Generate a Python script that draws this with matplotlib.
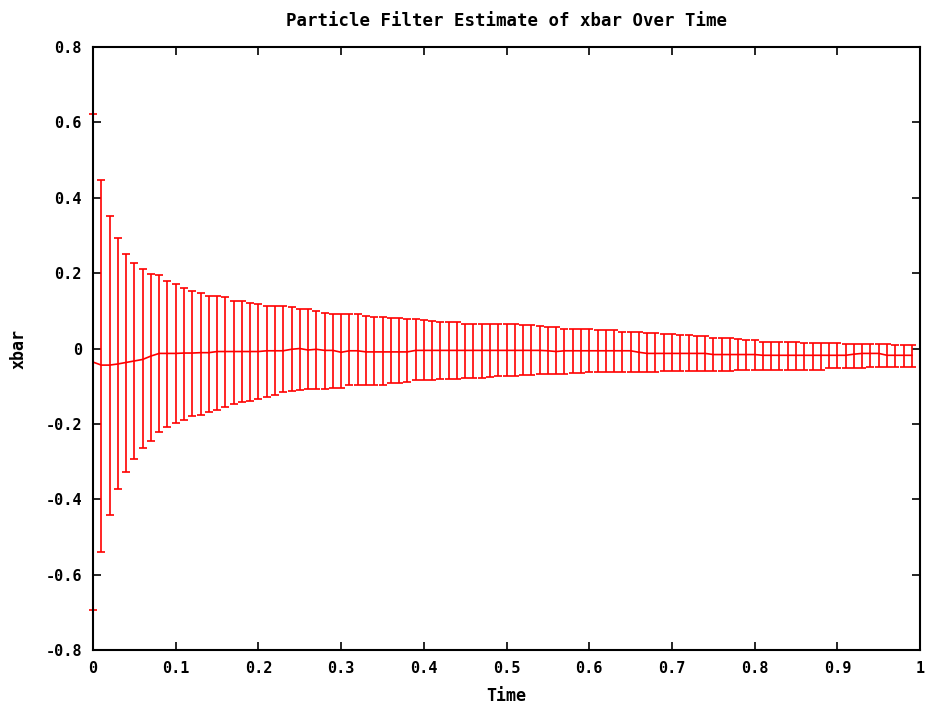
import numpy as np
import matplotlib.pyplot as plt

# time steps 0.00 .. 0.99
time = [i / 100 for i in range(100)]

xbar = [-0.036, -0.044, -0.044, -0.041, -0.037, -0.033, -0.029, -0.020, -0.013, -0.013,
        -0.013, -0.012, -0.012, -0.011, -0.011, -0.008, -0.008, -0.008, -0.008, -0.008,
        -0.008, -0.006, -0.006, -0.006, -0.002, 0.000, -0.004, -0.002, -0.005, -0.005,
        -0.010, -0.006, -0.006, -0.009, -0.009, -0.009, -0.009, -0.009, -0.009, -0.005,
        -0.005, -0.005, -0.005, -0.005, -0.005, -0.005, -0.005, -0.005, -0.005, -0.005,
        -0.005, -0.005, -0.005, -0.005, -0.005, -0.006, -0.008, -0.006, -0.006, -0.006,
        -0.006, -0.006, -0.006, -0.006, -0.006, -0.006, -0.010, -0.013, -0.013, -0.013,
        -0.013, -0.013, -0.013, -0.013, -0.013, -0.016, -0.016, -0.016, -0.016, -0.016,
        -0.016, -0.018, -0.018, -0.018, -0.018, -0.018, -0.018, -0.018, -0.018, -0.018,
        -0.018, -0.018, -0.015, -0.013, -0.013, -0.013, -0.018, -0.018, -0.018, -0.018]

upper = [0.623, 0.447, 0.351, 0.292, 0.251, 0.227, 0.211, 0.199, 0.195, 0.179,
         0.171, 0.160, 0.153, 0.146, 0.140, 0.139, 0.136, 0.127, 0.127, 0.122,
         0.118, 0.113, 0.112, 0.112, 0.111, 0.104, 0.104, 0.100, 0.095, 0.091,
         0.091, 0.091, 0.091, 0.085, 0.084, 0.084, 0.080, 0.080, 0.077, 0.077,
         0.075, 0.073, 0.071, 0.071, 0.070, 0.066, 0.066, 0.066, 0.065, 0.065,
         0.064, 0.064, 0.062, 0.062, 0.059, 0.057, 0.057, 0.053, 0.053, 0.053,
         0.053, 0.049, 0.049, 0.049, 0.044, 0.044, 0.044, 0.040, 0.040, 0.038,
         0.038, 0.035, 0.035, 0.033, 0.033, 0.029, 0.029, 0.029, 0.024, 0.022,
         0.022, 0.018, 0.018, 0.018, 0.018, 0.018, 0.015, 0.015, 0.015, 0.015,
         0.015, 0.011, 0.011, 0.011, 0.011, 0.011, 0.011, 0.009, 0.009, 0.009]

lower = [-0.693, -0.541, -0.441, -0.372, -0.328, -0.294, -0.264, -0.245, -0.221, -0.208,
         -0.197, -0.190, -0.180, -0.176, -0.169, -0.162, -0.155, -0.147, -0.142, -0.138,
         -0.133, -0.129, -0.124, -0.116, -0.113, -0.111, -0.108, -0.108, -0.107, -0.105,
         -0.104, -0.098, -0.098, -0.097, -0.098, -0.096, -0.091, -0.091, -0.089, -0.084,
         -0.084, -0.084, -0.081, -0.081, -0.080, -0.078, -0.078, -0.077, -0.075, -0.074,
         -0.072, -0.072, -0.070, -0.070, -0.068, -0.067, -0.068, -0.067, -0.065, -0.065,
         -0.062, -0.062, -0.062, -0.062, -0.062, -0.062, -0.062, -0.062, -0.062, -0.060,
         -0.060, -0.060, -0.060, -0.060, -0.060, -0.060, -0.060, -0.059, -0.056, -0.058,
         -0.058, -0.058, -0.058, -0.058, -0.057, -0.057, -0.057, -0.056, -0.056, -0.053,
         -0.053, -0.051, -0.051, -0.051, -0.049, -0.049, -0.049, -0.049, -0.049, -0.049]

xticks = [0, 0.1, 0.2, 0.3, 0.4, 0.5, 0.6, 0.7, 0.8, 0.9, 1]
xticklabels = ['0', '0.1', '0.2', '0.3', '0.4', '0.5', '0.6', '0.7', '0.8', '0.9', '1']
yticks = [-0.8, -0.6, -0.4, -0.2, 0, 0.2, 0.4, 0.6, 0.8]
yticklabels = ['-0.8', '-0.6', '-0.4', '-0.2', '0', '0.2', '0.4', '0.6', '0.8']

plt.rcParams['font.family'] = 'DejaVu Sans Mono'
plt.rcParams['font.weight'] = 'bold'

fig = plt.figure(figsize=(9.36, 7.13), dpi=100)
ax = fig.add_axes([0.0994, 0.0884, 0.8836, 0.8456])

x = np.array(time)
y = np.array(xbar)
err = [y - np.array(lower), np.array(upper) - y]

ax.errorbar(x, y, yerr=err, color='#ff0000', lw=1.2, elinewidth=1.2,
            capsize=2.7, capthick=1.2, clip_on=False, zorder=3)

ax.set_xlim(0, 1)
ax.set_ylim(-0.8, 0.8)
ax.set_xticks(xticks)
ax.set_xticklabels(xticklabels)
ax.set_yticks(yticks)
ax.set_yticklabels(yticklabels)
ax.tick_params(direction='in', top=True, right=True, length=6, width=1.2,
               labelsize=11, pad=8)
for s in ax.spines.values():
    s.set_linewidth(1.5)
    s.set_zorder(5)

ax.set_title('Particle Filter Estimate of xbar Over Time', fontsize=12.5,
             fontweight='bold', pad=15)
ax.set_xlabel('Time', fontsize=12, fontweight='bold', labelpad=8)
ax.set_ylabel('xbar', fontsize=12, fontweight='bold', labelpad=13)

plt.savefig('out.png', dpi=100)
